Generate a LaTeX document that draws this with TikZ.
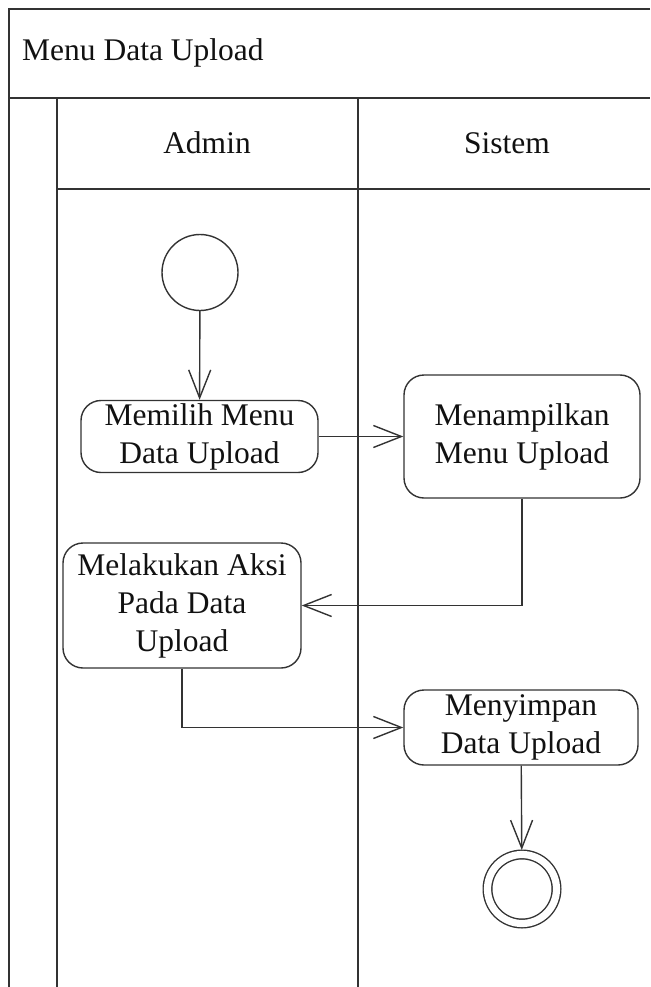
\documentclass[tikz,border=0pt]{standalone}
\usepackage{fontspec}
\setmainfont{Liberation Serif}
\usetikzlibrary{arrows.meta,positioning}
\definecolor{LaneInk}{HTML}{333333}
\definecolor{LaneText}{HTML}{111111}

\begin{document}
\begin{tikzpicture}[
    x=1pt, y=-1pt,
    lane/.style={draw=LaneInk, line width=1.6pt},
    label/.style={text=LaneText, font=\fontsize{31.5}{38}\selectfont, inner sep=0pt},
    act/.style={draw=LaneInk, line width=1.4pt, rounded corners=20pt, fill=white,
      align=center, text=LaneText, font=\fontsize{31.5}{38}\selectfont, inner sep=0pt},
    startnode/.style={circle, draw=LaneInk, line width=1.4pt, minimum size=76pt, inner sep=0pt},
    endnode/.style={circle, draw=LaneInk, line width=1.4pt, double, double distance=7.2pt,
      minimum size=69pt, inner sep=0pt, outer sep=4.5pt},
    flow/.style={-{Straight Barb[length=28pt, width=22pt]}, line width=1.4pt, draw=LaneInk}
  ]
    \useasboundingbox (0,0) rectangle (650,987);
    % swimlane frame
    \draw[lane] (650,9) -- (9,9) -- (9,987);
    \draw[lane] (9,98) -- (650,98);
    \draw[lane] (57,98) -- (57,987);
    \draw[lane] (358,98) -- (358,987);
    \draw[lane] (57,189) -- (650,189);
    \node[label, anchor=west] (title) at (22,53) {Menu Data Upload};
    \node[label] (admin) at (207,143) {Admin};
    \node[label] (sistem) at (507,143) {Sistem};
    % activities
    \node[startnode] (start) at (200,272.5) {};
    \node[act, minimum width=237pt, minimum height=72pt] (pilih) at (199.5,436.5) {Memilih Menu\\Data Upload};
    \node[act, minimum width=236pt, minimum height=123pt] (tampil) at (522,436.5) {Menampilkan\\Menu Upload};
    \node[act, minimum width=238pt, minimum height=125pt] (aksi) at (182,605.5) {Melakukan Aksi\\Pada Data\\Upload};
    \node[act, minimum width=234pt, minimum height=75pt] (simpan) at (521,727.5) {Menyimpan\\Data Upload};
    \node[endnode] (stop) at (522,889) {};
    \draw[flow] (start) -- (pilih);
    \draw[flow] (pilih) -- (tampil);
    \draw[flow] (tampil.south) |- (aksi.east);
    \draw[flow] (aksi.south) |- (simpan.west);
    \draw[flow] (simpan) -- (stop);
  \end{tikzpicture}
\end{document}
